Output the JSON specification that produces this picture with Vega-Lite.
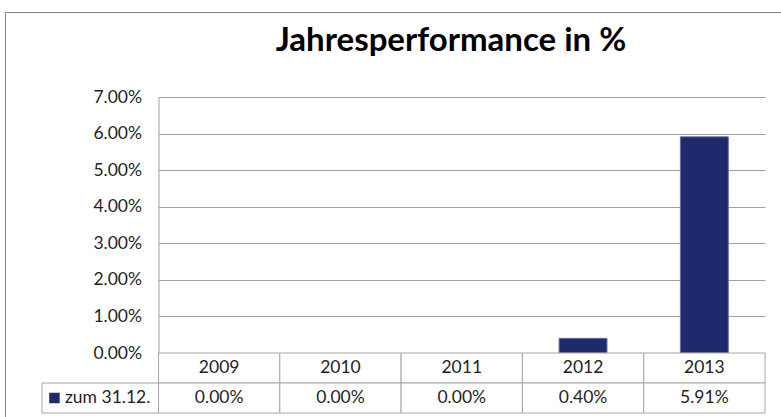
{
  "$schema": "https://vega.github.io/schema/vega-lite/v6.json",
  "autosize": "none",
  "width": 776,
  "height": 405,
  "padding": {"left": 5, "top": 12, "right": 0, "bottom": 0},
  "background": "white",
  "title": {
    "text": "Jahresperformance in %",
    "font": "Lato",
    "fontSize": 33,
    "fontWeight": "bold",
    "color": "#000000",
    "anchor": "middle",
    "frame": "group",
    "baseline": "alphabetic",
    "offset": -45,
    "dx": 58,
    "dy": 30
  },
  "config": {
    "view": {"stroke": null},
    "font": "Lato"
  },
  "data": {
    "values": [
      {"year": "2009", "value": 0},
      {"year": "2010", "value": 0},
      {"year": "2011", "value": 0},
      {"year": "2012", "value": 0.004},
      {"year": "2013", "value": 0.0591}
    ]
  },
  "resolve": {"scale": {"x": "independent", "y": "independent"}},
  "layer": [
    {
      "mark": {"type": "point", "opacity": 0},
      "encoding": {
        "x": {
          "datum": 0,
          "type": "quantitative",
          "scale": {"domain": [0, 1], "range": [0, 790], "nice": false},
          "axis": {"orient": "top", "domain": true, "domainColor": "#808080", "domainWidth": 1, "ticks": false, "labels": false, "grid": false, "title": null}
        },
        "y": {
          "datum": 0,
          "type": "quantitative",
          "scale": {"domain": [0, 1], "range": [0, 420], "nice": false},
          "axis": {"orient": "left", "domain": true, "domainColor": "#808080", "domainWidth": 1, "ticks": false, "labels": false, "grid": false, "title": null}
        }
      }
    },
    {
      "transform": [{"filter": "datum.value > 0"}],
      "mark": {"type": "bar", "color": "#1f2a6c", "stroke": "#6870a0", "strokeWidth": 1},
      "encoding": {
        "x": {
          "field": "year",
          "type": "nominal",
          "scale": {
            "domain": ["2009", "2010", "2011", "2012", "2013"],
            "range": [153.5, 760],
            "paddingInner": 0.605,
            "paddingOuter": 0.3025
          },
          "axis": null
        },
        "y": {
          "field": "value",
          "type": "quantitative",
          "scale": {"domain": [0, 0.07], "range": [341, 85], "nice": false},
          "axis": {
            "orient": "left",
            "values": [0, 0.01, 0.02, 0.03, 0.04, 0.05, 0.06, 0.07],
            "format": ".2%",
            "offset": -153.5,
            "grid": true,
            "gridColor": "#a0a0a0",
            "gridWidth": 1,
            "domainColor": "#a0a0a0",
            "domainWidth": 1,
            "ticks": false,
            "labelPadding": 17,
            "labelFont": "Lato",
            "labelFontSize": 17.5,
            "labelColor": "#1f1f1f",
            "title": null
          }
        }
      }
    },
    {
      "layer": [
        {
          "mark": {"type": "rect", "fill": "white", "stroke": "#a6a6a6", "strokeWidth": 1},
          "encoding": {
            "x": {
              "field": "year",
              "type": "nominal",
              "scale": {
                "domain": ["2009", "2010", "2011", "2012", "2013"],
                "range": [153.5, 760],
                "paddingInner": 0,
                "paddingOuter": 0
              },
              "axis": null
            },
            "y": {
              "datum": "Jahr",
              "type": "nominal",
              "scale": {"domain": ["Jahr", "Wert"], "range": [341, 401], "paddingInner": 0, "paddingOuter": 0},
              "axis": null
            }
          }
        },
        {
          "mark": {"type": "rect", "fill": "white", "stroke": "#a6a6a6", "strokeWidth": 1},
          "encoding": {
            "x": {"field": "year", "type": "nominal"},
            "y": {"datum": "Wert", "type": "nominal"}
          }
        },
        {
          "mark": {"type": "text", "font": "Lato", "fontSize": 17.5, "color": "#1f1f1f", "baseline": "middle"},
          "encoding": {
            "x": {"field": "year", "type": "nominal"},
            "y": {"datum": "Jahr", "type": "nominal"},
            "text": {"field": "year", "type": "nominal"}
          }
        },
        {
          "mark": {"type": "text", "font": "Lato", "fontSize": 17.5, "color": "#1f1f1f", "baseline": "middle"},
          "encoding": {
            "x": {"field": "year", "type": "nominal"},
            "y": {"datum": "Wert", "type": "nominal"},
            "text": {"field": "value", "type": "quantitative", "format": ".2%"}
          }
        }
      ]
    },
    {
      "data": {"values": [{"series": "zum 31.12."}]},
      "layer": [
        {
          "mark": {"type": "rect", "fill": "white", "stroke": "#a6a6a6", "strokeWidth": 1},
          "encoding": {
            "x": {
              "field": "series",
              "type": "nominal",
              "scale": {"domain": ["zum 31.12."], "range": [37, 153.5], "paddingInner": 0, "paddingOuter": 0},
              "axis": null
            },
            "y": {
              "datum": "Wert",
              "type": "nominal",
              "scale": {"domain": ["Jahr", "Wert"], "range": [341, 401], "paddingInner": 0, "paddingOuter": 0},
              "axis": null
            }
          }
        },
        {
          "mark": {"type": "point", "shape": "square", "filled": true, "size": 110, "color": "#1f2a6c", "opacity": 1},
          "encoding": {
            "x": {"field": "series", "type": "nominal", "bandPosition": 0.107},
            "y": {"datum": "Wert", "type": "nominal"}
          }
        },
        {
          "mark": {"type": "text", "font": "Lato", "fontSize": 17.5, "color": "#1f1f1f", "baseline": "middle", "align": "left"},
          "encoding": {
            "x": {"field": "series", "type": "nominal", "bandPosition": 0.197},
            "y": {"datum": "Wert", "type": "nominal"},
            "text": {"field": "series", "type": "nominal"}
          }
        }
      ]
    }
  ]
}
